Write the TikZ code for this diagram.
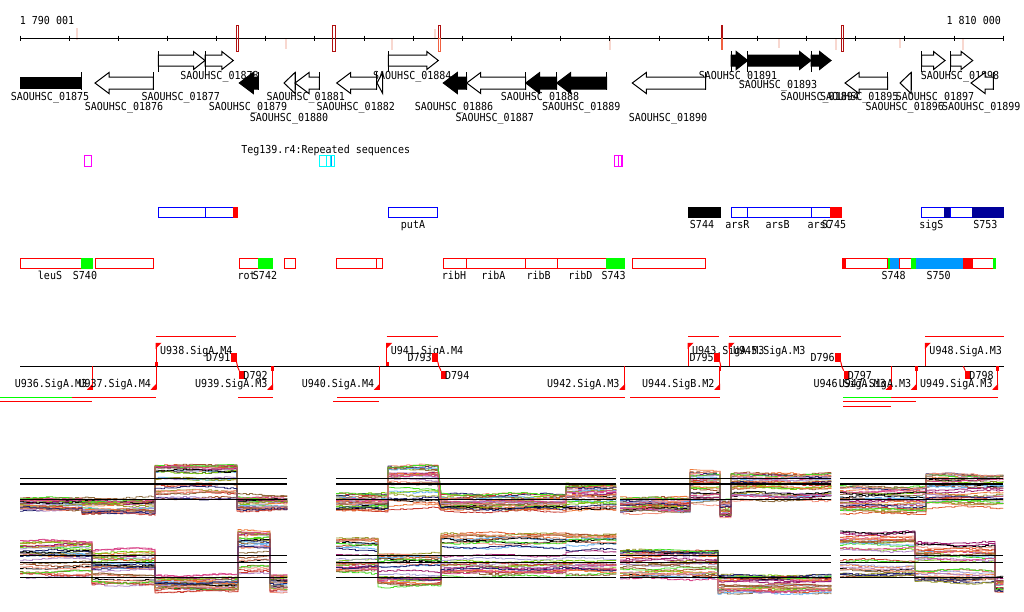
\documentclass[tikz,border=0pt]{standalone}
\usepackage{fontspec}
\newfontfamily\labfont{DejaVu Sans Mono}
\definecolor{darkred}{HTML}{B01010}
\definecolor{orng}{HTML}{F06040}
\definecolor{pale}{HTML}{F8D8D0}
\definecolor{annblue}{HTML}{0000FF}
\definecolor{navyf}{HTML}{000099}
\definecolor{skyf}{HTML}{0099FF}
\definecolor{grn}{HTML}{00FF00}
\definecolor{rd}{HTML}{FF0000}
\definecolor{mag}{HTML}{FF00FF}
\definecolor{cyn}{HTML}{00FFFF}
\definecolor{col0}{HTML}{E05A2B}
\definecolor{col1}{HTML}{7CCB0E}
\definecolor{col2}{HTML}{A0522D}
\definecolor{col3}{HTML}{9C1C6E}
\definecolor{col4}{HTML}{66B2F2}
\definecolor{col5}{HTML}{9A9A2A}
\definecolor{col6}{HTML}{EE7A3A}
\definecolor{col7}{HTML}{B088C8}
\definecolor{col8}{HTML}{000000}
\definecolor{col9}{HTML}{C83A30}
\definecolor{col10}{HTML}{44DD22}
\definecolor{col11}{HTML}{8C6A3C}
\definecolor{col12}{HTML}{D9468A}
\definecolor{col13}{HTML}{F2917A}
\definecolor{col14}{HTML}{22226E}
\definecolor{col15}{HTML}{A8A0D8}

\newcommand\gfwd[3]{%
 \pgfmathsetmacro\hx{max(#1,#2-11.5)}
 \filldraw[fill=#3, draw=black, line width=1pt] (#1,55) -- (\hx,55) -- (\hx,51.5) -- (#2,60.5) -- (\hx,69.5) -- (\hx,66) -- (#1,66) -- cycle;
 \draw[line width=1pt] (#1,51) -- (#1,72);}
\newcommand\grev[3]{%
 \pgfmathsetmacro\hx{min(#2,#1+14)}
 \filldraw[fill=#3, draw=black, line width=1pt] (#1,83) -- (\hx,72.5) -- (\hx,77) -- (#2,77) -- (#2,89) -- (\hx,89) -- (\hx,93.5) -- cycle;
 \draw[line width=1pt] (#2,72) -- (#2,89.5);}
\newcommand\promup[3]{%
 \draw[rd,line width=1pt] (#2,366.3) -- (#2,343.3);
 \fill[rd] (#2-0.5,342.8) -- (#2+5.5,342.8) -- (#2-0.5,349) -- cycle;
 \node[lab, anchor=west] (#1) at (#2+4,350) {#3};}
\newcommand\promdn[3]{%
 \draw[rd,line width=1pt] (#2,366.3) -- (#2,389.3);
 \fill[rd] (#2+0.5,389.8) -- (#2-5.5,389.8) -- (#2+0.5,383.6) -- cycle;
 \node[lab, anchor=east] (#1) at (#2-5,383.3) {#3};}
\newcommand\termup[3]{%
 \fill[rd] (#2,353.3) rectangle (#2+5.5,361.7);
 \draw[rd, line width=1pt] (#2+5.5,361.7) -- (#2+6.5,366.3);
 \node[lab, anchor=east] (#1) at (#2-0.5,357.3) {#3};}
\newcommand\termdn[3]{%
 \draw[rd,line width=1pt] (#2-2,366.3) -- (#2,370.7);
 \fill[rd] (#2,370.7) rectangle (#2+5,379.3);
 \node[lab, anchor=west] (#1) at (#2+4,375) {#3};}
\newcommand\exprtr[8]{%
 \pgfmathsetseed{#1}%
 \foreach \i in {1,...,30} {
   \pgfmathsetmacro\f{0.02+0.98*rnd}
   \pgfmathsetmacro\pha{360*rnd}
   \pgfmathsetmacro\phb{360*rnd}
   \pgfmathtruncatemacro\ci{mod(\i,16)}
   \draw[trace,draw=col\ci] plot[const plot, domain=#2:#3, samples=#7] (\x,{#4+(#5-#4)*(\f^#6)+1.1*sin(\x*4+\pha)+0.7*rand})
     \foreach \xa/\xb/\lo/\hi/\pw/\nn in {#8} { -- plot[const plot, domain=\xa:\xb, samples=\nn] (\x,{\lo+(\hi-\lo)*(\f^\pw)+1.1*sin(\x*4+\pha)+0.7*rand+1.6*sin(\xa*7+\pha*3)}) };
 }}

\begin{document}
\begin{tikzpicture}[x=1pt,y=-1pt,
  lab/.style={font=\labfont\fontsize{11}{11}\selectfont, inner sep=0pt, text height=8pt, text depth=0pt, xscale=0.91, transform shape},
  trace/.style={line width=0.8pt, line join=round},
  ann/.style={line width=1pt}]
\useasboundingbox[fill=white] (0,0) rectangle (1024,611);

% ---------- axis ----------
\foreach \xx/\ya/\yb in {77/28/40, 286/38/49, 391.7/38/50, 435/29/38, 610/38/50, 779/38/48, 835.7/38/50, 900/38/48, 963.3/38/50}
  \fill[pale] (\xx-1,\ya) rectangle (\xx+1,\yb);
\draw[line width=1pt] (20,38) -- (1003.3,38);
\foreach \k in {0,...,20} \draw[line width=1pt] ({20+49.165*\k},35.5) -- ++(0,5);
\node[lab] (start) at (47,20) {1 790 001};
\node[lab] (end) at (973.7,20) {1 810 000};
\draw[darkred, line width=1pt] (236,25.5) rectangle (238.5,51.5);
\draw[darkred, line width=1pt] (332.5,25.5) rectangle (335,51.5);
\draw[darkred, line width=1pt] (438.3,25.5) rectangle (440.8,38);
\draw[orng, line width=1pt] (438.3,38) rectangle (440.8,51.5);
\fill[darkred] (720.5,25) rectangle (723,38);
\fill[orng] (720.5,38) rectangle (723,50);
\draw[darkred, line width=1pt] (841.2,25.5) rectangle (843.8,51.5);

% ---------- gene labels ----------
\foreach \id/\xx/\yy in {01875/50/96.7, 01876/124/106.3, 01877/180.7/96.7, 01878/219.5/75.8, 01879/248/106.3,
  01880/289/117, 01881/305.7/96.7, 01882/355.7/106.3, 01884/412.3/75.8, 01886/454/106.3, 01887/494.7/117,
  01888/540/96.7, 01889/581.3/106.3, 01890/668/117, 01891/738/75.8, 01893/778/84.7, 01894/819.7/96.7,
  01895/859.3/96.7, 01896/904.7/106.3, 01897/935/96.7, 01898/960/75.8, 01899/981.3/106.3}
  \node[lab] (l\id) at (\xx,\yy) {SAOUHSC\_\id};

% ---------- genes ----------
\fill[black] (20,77) rectangle (81.7,89);
\draw[line width=1pt] (81.7,72) -- (81.7,89.5);
\gfwd{158.3}{205}{white}
\gfwd{205}{233.3}{white}
\gfwd{388.3}{438.3}{white}
\gfwd{731}{747.7}{black}
\gfwd{747.7}{811}{black}
\gfwd{811}{831}{black}
\gfwd{921.7}{945}{white}
\gfwd{950.7}{972.7}{white}
\grev{95}{153.3}{white}
\grev{239.3}{258.3}{black}
\grev{284}{295}{white}
\grev{295}{319.3}{white}
\grev{336.7}{376.7}{white}
\grev{377}{382.7}{white}
\grev{443.3}{466.7}{black}
\grev{466.7}{525.7}{white}
\grev{525.7}{556.7}{black}
\grev{556.7}{606.7}{black}
\grev{632.3}{705.7}{white}
\grev{845}{887.7}{white}
\grev{900}{911}{white}
\grev{971}{993.3}{white}

% ---------- repeats ----------
\node[lab] (teg) at (325.7,149.3) {Teg139.r4:Repeated sequences};
\draw[mag, ann] (84.3,155.5) rectangle (91.7,166);
\draw[cyn, ann] (319.3,155.5) rectangle (326,166);
\draw[cyn, ann] (326,155.5) rectangle (331,166);
\draw[cyn, ann] (330,155.5) rectangle (334.3,166);
\draw[skyf, ann] (331.2,156) -- (331.2,165.5);
\draw[mag, ann] (614.3,155.5) rectangle (621,166);
\draw[mag, ann] (618.7,155.5) rectangle (622.7,166);

% ---------- annotation row (blue) ----------
\draw[annblue, ann] (158.3,207.3) rectangle (205,217.3);
\draw[annblue, ann] (205,207.3) rectangle (233.3,217.3);
\fill[rd] (233.3,206.8) rectangle (237.7,217.8);
\draw[annblue, ann] (388.3,207.3) rectangle (437.7,217.3);
\node[lab] (putA) at (413,224) {putA};
\fill[black] (688,206.8) rectangle (721,217.8);
\node[lab] (s744) at (702,224) {S744};
\draw[annblue, ann] (731,207.3) rectangle (747.3,217.3);
\draw[annblue, ann] (747.3,207.3) rectangle (811,217.3);
\draw[annblue, ann] (811,207.3) rectangle (830.3,217.3);
\fill[rd] (830.3,206.8) rectangle (842,217.8);
\node[lab] (arsR) at (737.3,224) {arsR};
\node[lab] (arsB) at (777.7,224) {arsB};
\node[lab] (arsC) at (819.7,224) {arsC};
\node[lab] (s745) at (834,224) {S745};
\draw[annblue, ann] (921.3,207.3) rectangle (944.3,217.3);
\fill[navyf] (944.3,206.8) rectangle (950.3,217.8);
\draw[annblue, ann] (950.3,207.3) rectangle (972,217.3);
\fill[navyf] (972,206.8) rectangle (1003.7,217.8);
\node[lab] (sigS) at (931.3,224) {sigS};
\node[lab] (s753) at (985.3,224) {S753};

% ---------- annotation row (red) ----------
\draw[rd, ann] (20.3,258.3) rectangle (81.3,268.3);
\fill[grn] (81.3,257.8) rectangle (92.7,268.8);
\draw[rd, ann] (95.7,258.3) rectangle (153.3,268.3);
\node[lab] (leuS) at (50,275) {leuS};
\node[lab] (s740) at (85,275) {S740};
\draw[rd, ann] (239.3,258.3) rectangle (258.3,268.3);
\fill[grn] (258.3,257.8) rectangle (272.7,268.8);
\node[lab] (rot) at (246.7,275) {rot};
\node[lab] (s742) at (265,275) {S742};
\draw[rd, ann] (284.3,258.3) rectangle (295.3,268.3);
\draw[rd, ann] (336.3,258.3) rectangle (376.7,268.3);
\draw[rd, ann] (376.7,258.3) rectangle (382.3,268.3);
\draw[rd, ann] (443.3,258.3) rectangle (466.7,268.3);
\draw[rd, ann] (466.7,258.3) rectangle (525.3,268.3);
\draw[rd, ann] (525.3,258.3) rectangle (557,268.3);
\draw[rd, ann] (557,258.3) rectangle (606.3,268.3);
\fill[grn] (606.3,257.8) rectangle (624.7,268.8);
\node[lab] (ribH) at (454,275) {ribH};
\node[lab] (ribA) at (493.3,275) {ribA};
\node[lab] (ribB) at (538.7,275) {ribB};
\node[lab] (ribD) at (580.3,275) {ribD};
\node[lab] (s743) at (613.7,275) {S743};
\draw[rd, ann] (632.3,258.3) rectangle (705.3,268.3);
\fill[rd] (842,257.8) rectangle (845.3,268.8);
\draw[rd, ann] (845.3,258.3) rectangle (887.7,268.3);
\fill[grn] (887.7,257.8) rectangle (890.3,268.8);
\fill[skyf] (890.3,257.8) rectangle (899.7,268.8);
\draw[rd, ann] (899.7,258.3) rectangle (911,268.3);
\fill[grn] (911,257.8) rectangle (915.7,268.8);
\fill[skyf] (915.7,257.8) rectangle (963,268.8);
\fill[rd] (963,257.8) rectangle (972,268.8);
\draw[rd, ann] (972,258.3) rectangle (993,268.3);
\fill[grn] (993,257.8) rectangle (996.3,268.8);
\node[lab] (s748) at (893.7,275) {S748};
\node[lab] (s750) at (938.7,275) {S750};

% ---------- transcription units ----------
\foreach \xa/\xb in {156/236, 386.7/437.7, 688/719, 729/841, 925.3/1003.7}
  \draw[rd, ann] (\xa,336) -- (\xb,336);
\draw[grn, ann] (0,397) -- (71.7,397);
\draw[grn, ann] (843,397) -- (891.3,397);
\foreach \xa/\xb in {71.7/156, 238.3/272.7, 337.3/624.7, 630.3/719.7, 891.3/997.7}
  \draw[rd, ann] (\xa,397) -- (\xb,397);
\foreach \xa/\xb in {0/92.3, 333.3/379.3, 843/916.3}
  \draw[rd, ann] (\xa,401.3) -- (\xb,401.3);
\draw[rd, ann] (843,406) -- (891,406);
\draw[line width=1pt] (20,366.3) -- (1003.7,366.3);
\foreach \xa/\ya in {155/361.7, 386/361.7}
  \fill[rd] (\xa,\ya) rectangle (\xa+2.7,366.3);
\foreach \xa in {271.3, 718.5, 915, 996.3}
  \fill[rd] (\xa,366.3) rectangle (\xa+2.7,370.7);
\promdn{u936}{92.3}{U936.SigA.M3}
\promdn{u937}{156}{U937.SigA.M4}
\promdn{u939}{272.7}{U939.SigA.M3}
\promdn{u940}{379.3}{U940.SigA.M4}
\promdn{u942}{624.7}{U942.SigA.M3}
\promdn{u944}{719.7}{U944.SigB.M2}
\promdn{u946}{891}{U946.SigA.M3}
\promdn{u947}{916.3}{U947.SigA.M3}
\promdn{u949}{997.7}{U949.SigA.M3}
\promup{u938}{156}{U938.SigA.M4}
\promup{u941}{386.7}{U941.SigA.M4}
\promup{u943}{688}{U943.SigA.M3}
\promup{u945}{729}{U945.SigA.M3}
\promup{u948}{925.3}{U948.SigA.M3}
\termup{d791}{231}{D791}
\termup{d793}{432.3}{D793}
\termup{d795}{714.3}{D795}
\termup{d796}{835.3}{D796}
\termdn{d792}{239.3}{D792}
\termdn{d794}{441}{D794}
\termdn{d797}{843.7}{D797}
\termdn{d798}{965.3}{D798}

% ---------- expression profiles ----------
\exprtr{11}{20}{82}{498}{510}{1}{20}{82/155/499/514/1.3/24, 155/237/467/500/2.2/27, 237/287/496/510/1/17}
\exprtr{12}{20}{92}{541}{577}{1.6}{24}{92/155/550/585/1.2/21, 155/238/576/591/1/27, 238/270/532/573/2/11, 270/287/573/592/1/6}
\exprtr{13}{336}{388}{493}{511}{1}{17}{388/438/467/510/2/17, 441/566/494/511/1/40, 566/616/485/510/1.3/17}
\exprtr{14}{336}{378}{537}{573}{1.5}{14}{378/441/552/585/1.2/21, 441/566/531/577/1.4/40, 566/616/532/575/1.4/17}
\exprtr{15}{620}{690}{497}{513}{1}{23}{690/720/472/506/1.5/10, 720/731/500/517/1/5, 731/831/474/502/1.3/33}
\exprtr{16}{620}{718}{550}{580}{1.3}{32}{718/831/575/593/1/37}
\exprtr{17}{840}{926}{486}{514}{1.3}{28}{926/1003/474/507/1.5/25}
\exprtr{18}{840}{915}{532}{578}{1.6}{25}{915/995/543/583/1.4/26, 995/1003/578/592/1/4}
\foreach \xa/\xb in {20/286.7, 336/616, 620/830.7, 840/1003.3}
  \foreach \yy in {478.3,484,499.3,555.3,562.3,577.3}
    \draw[line width=1.1pt] (\xa,\yy) -- (\xb,\yy);
\end{tikzpicture}
\end{document}
